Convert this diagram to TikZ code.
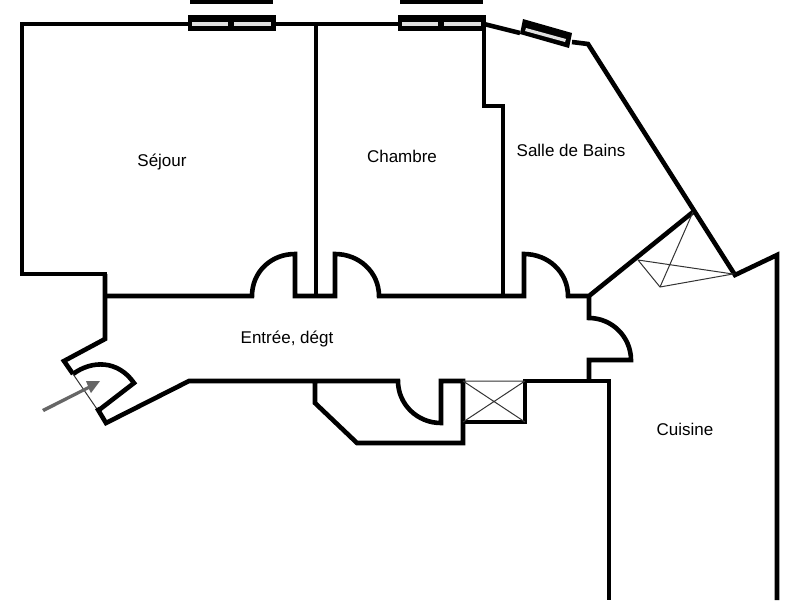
\documentclass[tikz,border=0pt]{standalone}
\usepackage{fontspec}
\setmainfont{Liberation Sans}
\tikzset{
  mur/.style={line width=4.6pt,line join=miter},
  trait/.style={line width=1pt,black!80},
  piece/.style={font=\fontsize{17}{18}\selectfont},
  vitre/.style={fill=black!12,draw=none},
}
\begin{document}
\begin{tikzpicture}[x=1pt,y=-1pt]
  \useasboundingbox (0,0) rectangle (800,600);
  % outer walls, top side
  \draw[mur] (105,296) -- (105,274) -- (22,274) -- (22,24) -- (484,24) -- (484,106) -- (503,106) -- (503,296);
  \draw[mur] (316,24) -- (316,296);
  \draw[mur] (484,24) -- (520,33);
  \draw[mur] (572,42) -- (588,44) -- (735,275) -- (777,255) -- (777,600);
  % corridor, top side and doors
  \draw[mur] (105,274) -- (105,339) -- (64,361) -- (73,374);
  \draw[mur] (105,296) -- (252,296) .. controls (252,272) and (271,254) .. (295,254) -- (295,296) -- (335,296) -- (335,254) .. controls (359,254) and (379,272) .. (379,296) -- (524,296) -- (524,254) .. controls (548,254) and (568,272) .. (568,296) -- (589,296) -- (693,212);
  \draw[mur] (589,296) -- (589,318) .. controls (612,318) and (631,337) .. (631,360) -- (589,360) -- (589,381);
  % entrance door
  \draw[mur] (73,374) .. controls (92,360) and (118,360) .. (134,383) -- (99,410);
  \draw[trait] (73,374) -- (99,412);
  \draw[mur] (97,408) -- (106,423) -- (189,381) -- (398,381) .. controls (398,404) and (417,423) .. (441,423) -- (441,381) -- (463,381) -- (463,443) -- (357,443) -- (315,403) -- (315,381);
  \draw[mur] (463,422) -- (525,422) -- (525,381) -- (609,381) -- (609,600);
  % ducts
  \draw[trait] (463,381) -- (525,381) (463,381) -- (525,422) (525,381) -- (463,422);
  \draw[trait] (638,260) -- (733,274) -- (660,287) -- cycle (660,287) -- (693,212);
  % windows
  \foreach \xa in {188,398} {
    \fill (\xa,15) rectangle ++(88,16);
    \fill (\xa+2,0) rectangle ++(83,4);
    \fill[vitre] (\xa+4,21.5) rectangle ++(36,4.5);
    \fill[vitre] (\xa+46,21.5) rectangle ++(37,4.5);
  }
  \fill (523,19) -- (572,33) -- (569,48) -- (520,34) -- cycle;
  \fill[vitre] (526,28) -- (566,39) -- (565,42) -- (525,31) -- cycle;
  % arrow
  \fill[black!60] (42,409) -- (88,386) -- (86,381) -- (100,381) -- (91,393) -- (89,389) -- (44,412) -- cycle;
  % labels
  \node[piece] (sejour) at (162,162) {Séjour};
  \node[piece] (chambre) at (402,156) {Chambre};
  \node[piece] (sdb) at (571,150) {Salle de Bains};
  \node[piece] (entree) at (287,339) {Entrée, dégt};
  \node[piece] (cuisine) at (685,429) {Cuisine};
\end{tikzpicture}
\end{document}
